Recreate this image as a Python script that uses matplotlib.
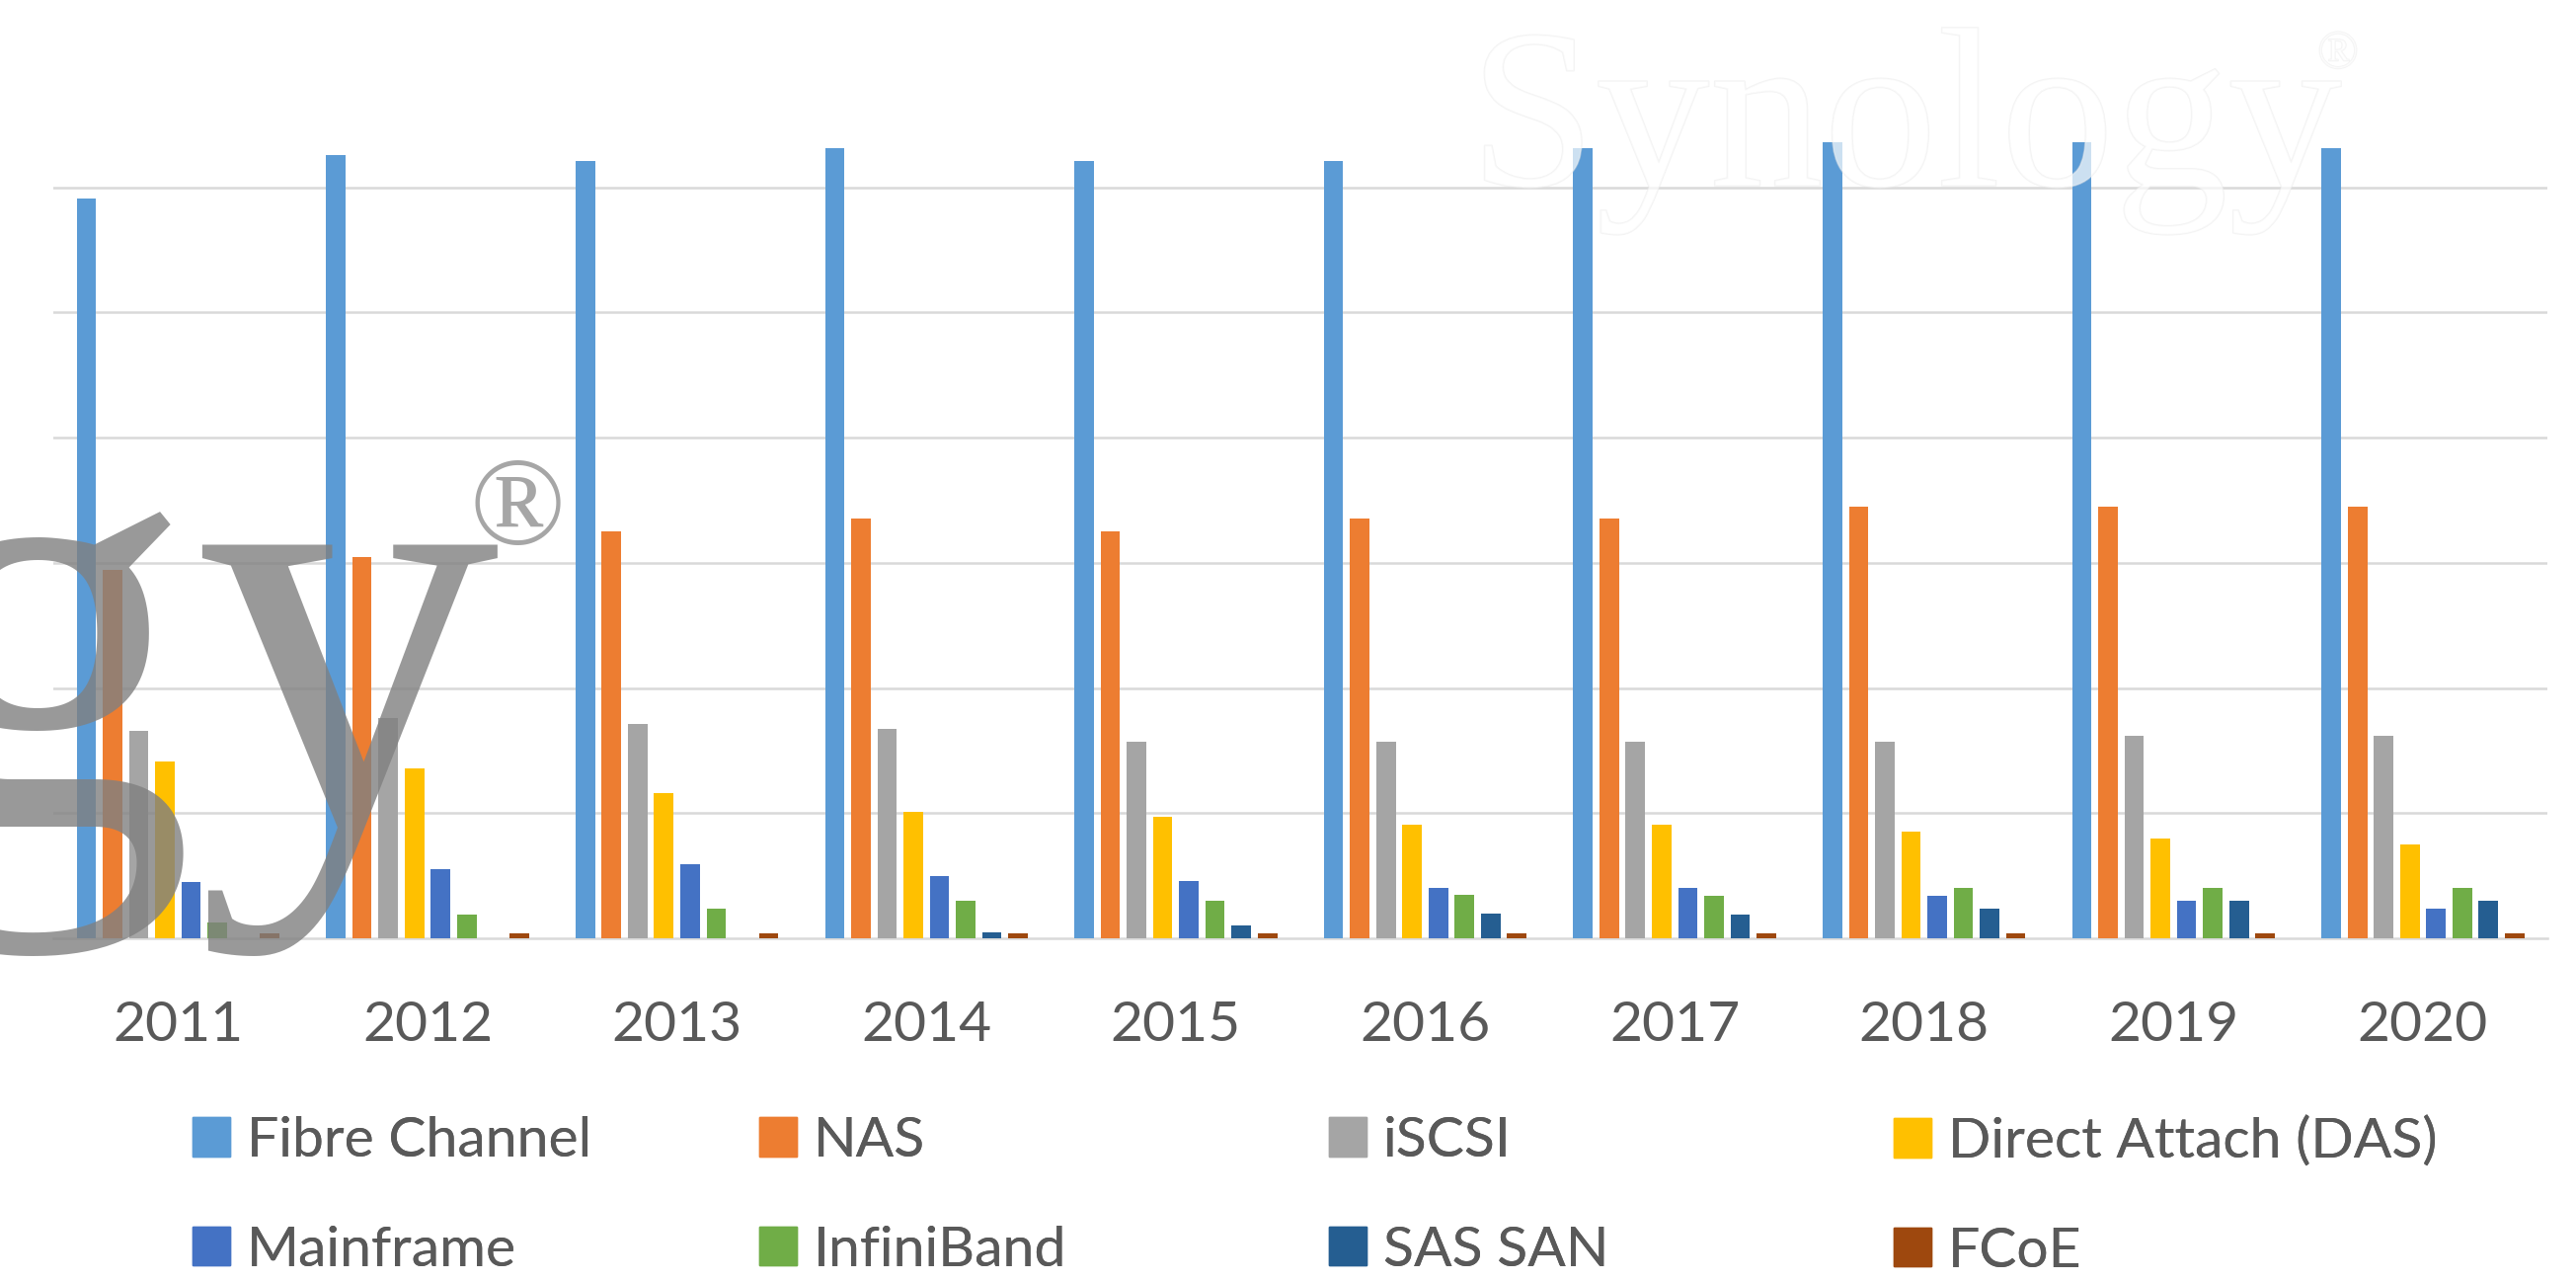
import matplotlib
matplotlib.use("Agg")
import matplotlib.pyplot as plt
import matplotlib.patheffects as pe
from matplotlib.patches import Patch
import numpy as np

years = ["2011", "2012", "2013", "2014", "2015", "2016", "2017", "2018", "2019", "2020"]

fibre_channel = [59.1, 62.6, 62.1, 63.1, 62.1, 62.1, 63.1, 63.6, 63.6, 63.1]
nas = [29.4, 30.5, 32.5, 33.5, 32.5, 33.5, 33.5, 34.5, 34.5, 34.5]
iscsi = [16.6, 17.6, 17.1, 16.7, 15.7, 15.7, 15.7, 15.7, 16.2, 16.2]
das = [14.1, 13.6, 11.6, 10.1, 9.7, 9.1, 9.1, 8.5, 8.0, 7.5]
mainframe = [4.5, 5.5, 5.9, 5.0, 4.6, 4.0, 4.0, 3.4, 3.0, 2.4]
infiniband = [1.3, 1.9, 2.4, 3.0, 3.0, 3.5, 3.4, 4.0, 4.0, 4.0]
sas_san = [0, 0, 0, 0.5, 1.0, 2.0, 1.9, 2.4, 3.0, 3.0]
fcoe = [0.4, 0.4, 0.4, 0.4, 0.4, 0.4, 0.4, 0.4, 0.4, 0.4]

series = [fibre_channel, nas, iscsi, das, mainframe, infiniband, sas_san, fcoe]
names = ["Fibre Channel", "NAS", "iSCSI", "Direct Attach (DAS)",
         "Mainframe", "InfiniBand", "SAS SAN", "FCoE"]
colors = ["#5B9BD5", "#ED7D31", "#A5A5A5", "#FFC000",
          "#4472C4", "#70AD47", "#255E91", "#9E480E"]

plt.rcParams['font.family'] = ['Lato', 'DejaVu Sans']
text_color = "#595959"

fig = plt.figure(figsize=(26.09, 12.97), dpi=100)
ax = fig.add_axes([0.0207, 0.2675, 0.9683, 0.684])

x = np.arange(len(years))
slot = 0.105
width = 0.078
for k, (vals, col) in enumerate(zip(series, colors)):
    ax.bar(x + (k - 3.5) * slot, vals, width, color=col, zorder=3)

ax.set_xlim(-0.5, len(years) - 0.5)
ax.set_ylim(0, 70)
ax.set_yticks(np.arange(10, 61, 10))
ax.yaxis.grid(True, color="#d9d9d9", linewidth=1.8, zorder=0)
ax.set_yticklabels([])
ax.tick_params(axis="y", length=0)
ax.set_xticks(x)
ax.set_xticklabels(years, fontsize=41, color=text_color)
ax.tick_params(axis="x", length=0, pad=45)
for s in ["top", "right", "left"]:
    ax.spines[s].set_visible(False)
ax.spines["bottom"].set_color("#d9d9d9")
ax.spines["bottom"].set_linewidth(1.8)

# legend: 4 evenly spaced columns, 2 rows
col_x = [195, 769, 1346, 1918]
for j in range(4):
    handles = [Patch(color=colors[j]), Patch(color=colors[j + 4])]
    labels = [names[j], names[j + 4]]
    leg = fig.legend(handles, labels, loc="upper left",
                     bbox_to_anchor=(col_x[j] / 2609, 1 - 1130 / 1297),
                     frameon=False, fontsize=41, labelcolor=text_color,
                     handlelength=0.67, handleheight=0.68, handletextpad=0.3,
                     labelspacing=1.05, borderpad=0, borderaxespad=0)
    fig.add_artist(leg)

# watermarks
fig.text(507 / 2609, 1 - 835 / 1297, "Synology", fontsize=445,
         family="Liberation Serif", color="#808080", alpha=0.8,
         ha="right", va="baseline", zorder=10)
fig.text(524 / 2609, 1 - 520 / 1297, "\u00ae", fontsize=92,
         family="Liberation Serif", color="#808080", alpha=0.7,
         ha="center", va="center", zorder=10)
fig.text(1488 / 2609, 1 - 188 / 1297, "Synology", fontsize=166,
         family="Liberation Serif", color="white", alpha=0.45,
         ha="left", va="baseline", zorder=10,
         path_effects=[pe.withStroke(linewidth=1.2, foreground="#e6e6e6")])
fig.text(2368 / 2609, 1 - 55 / 1297, "\u00ae", fontsize=40,
         family="Liberation Serif", color="white", alpha=0.45,
         ha="center", va="center", zorder=10,
         path_effects=[pe.withStroke(linewidth=1.0, foreground="#e6e6e6")])

fig.savefig("out.png", dpi=100)
